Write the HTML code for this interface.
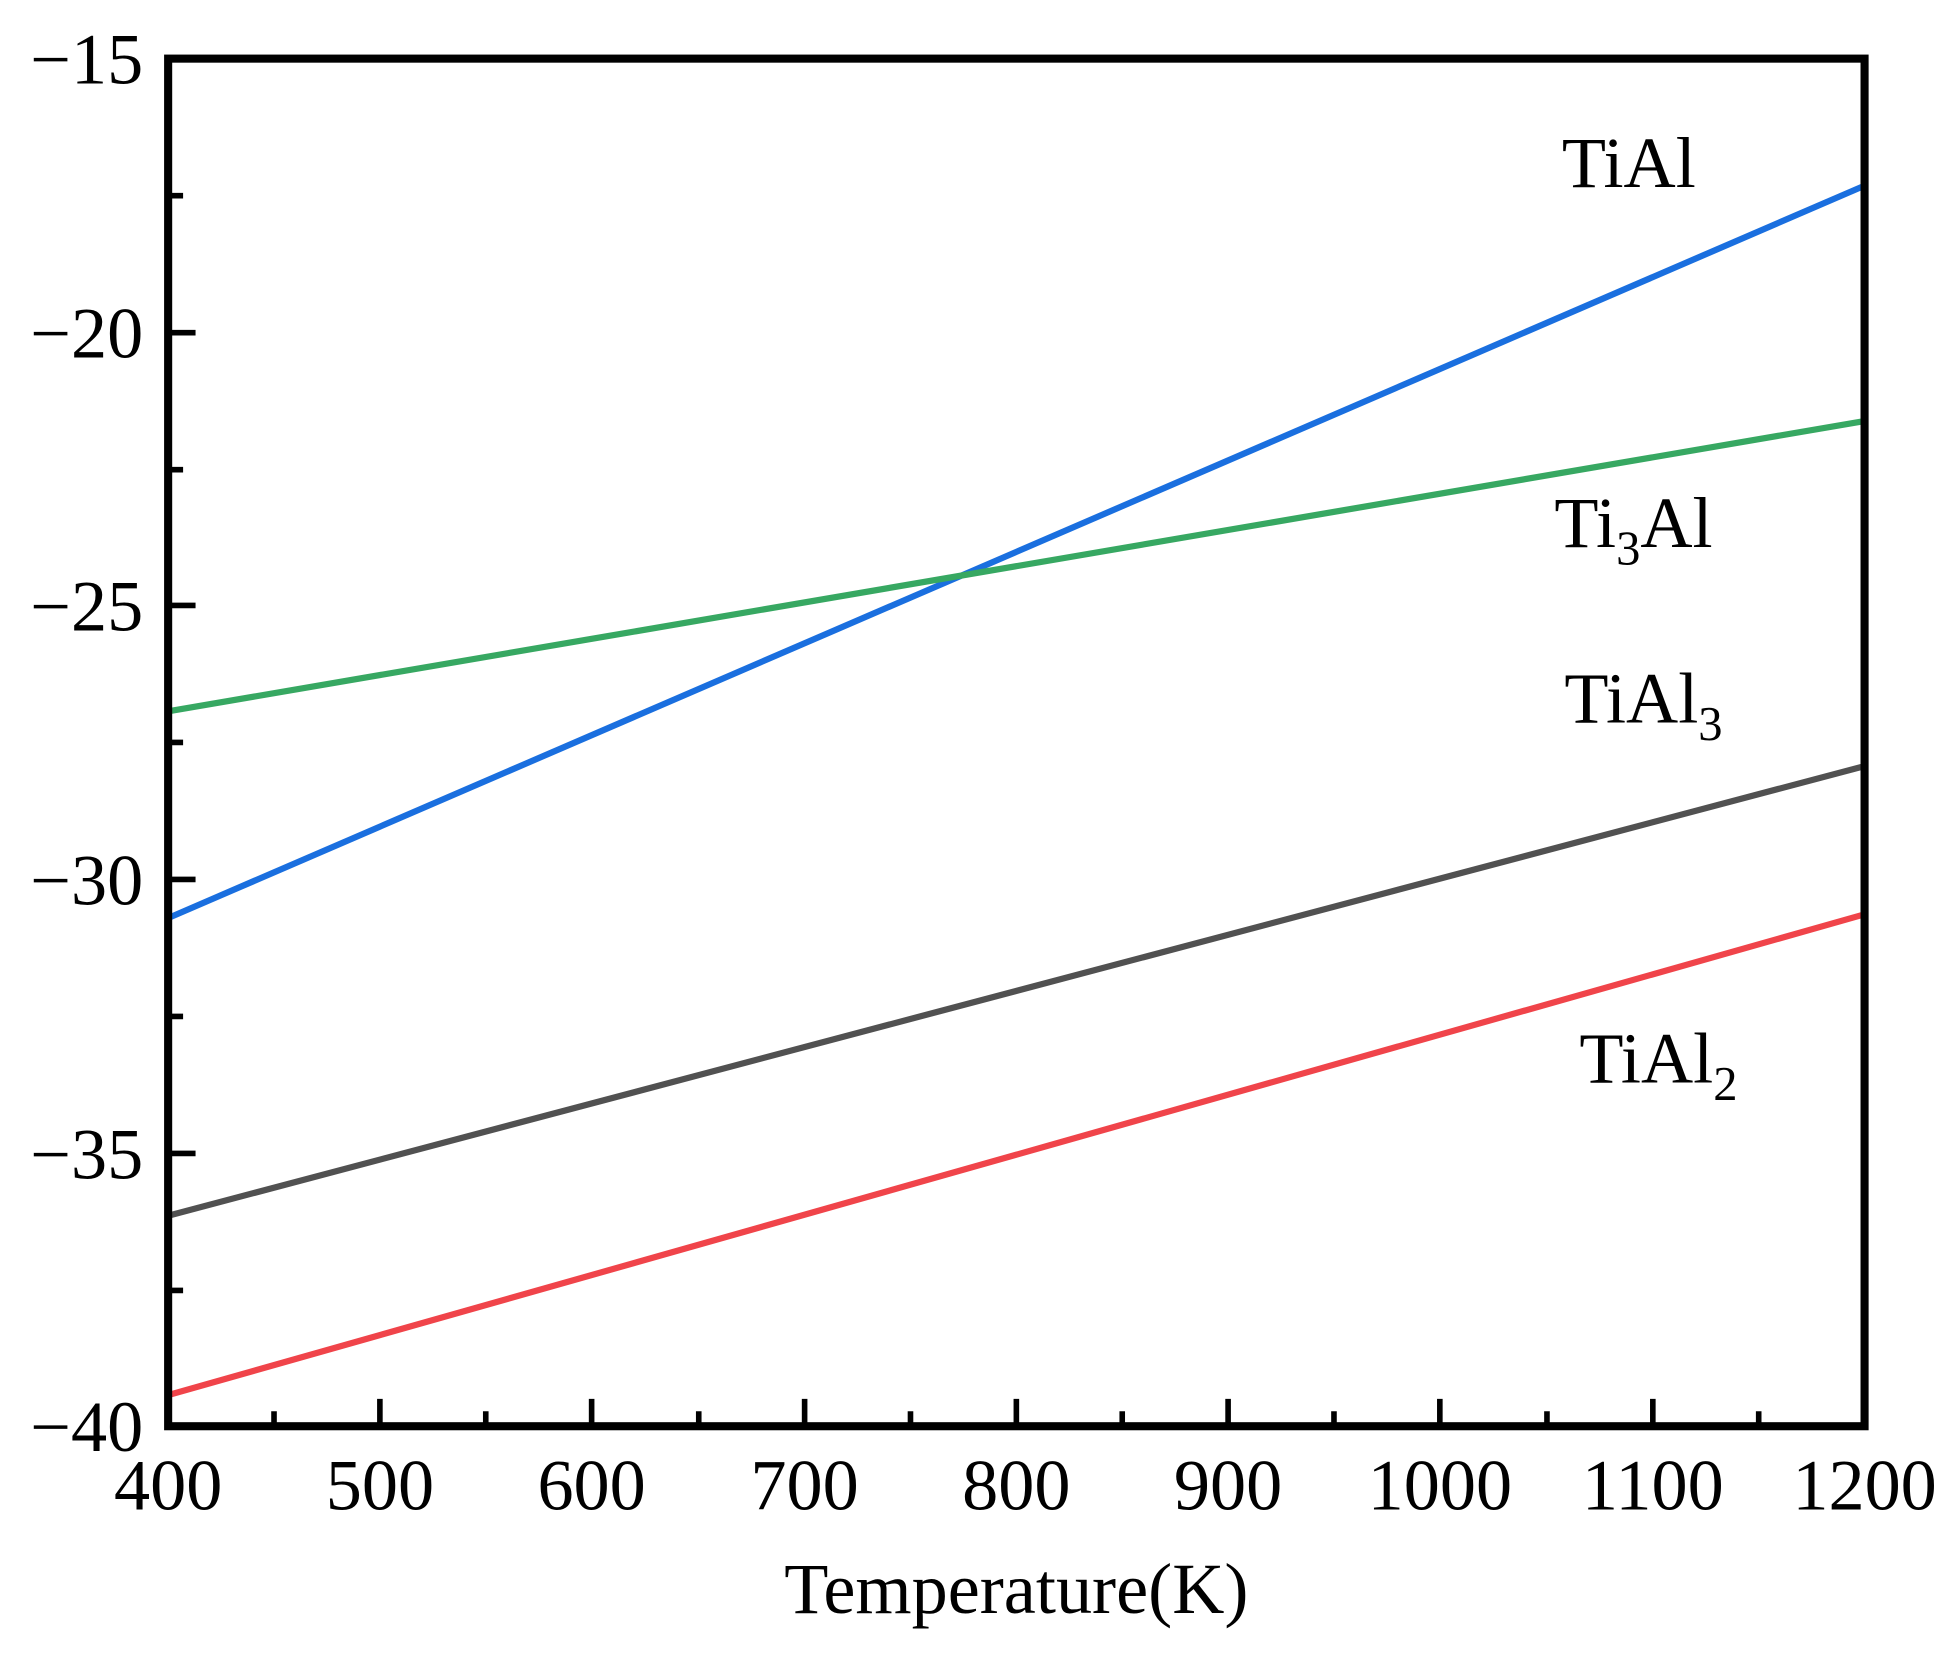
<!DOCTYPE html>
<html><head><style>html,body{margin:0;padding:0;background:#fff}svg{display:block}</style></head>
<body>
<svg width="1953" height="1653" viewBox="0 0 1568 1327" xmlns="http://www.w3.org/2000/svg" font-family="Liberation Serif, serif">
<rect width="1568" height="1327" fill="#fff"/>
<g stroke-width="5" fill="none" stroke-linecap="butt">
<line x1="135" y1="737" x2="1497" y2="149" stroke="#1a6fdf"/>
<line x1="135" y1="571" x2="1497" y2="338" stroke="#37a862"/>
<line x1="135" y1="976" x2="1497" y2="615" stroke="#515151"/>
<line x1="135" y1="1120" x2="1497" y2="734" stroke="#f0444a"/>
</g>
<g stroke="#000" stroke-width="4.5">
<path d="M305 1145v-22M475 1145v-22M646 1145v-22M816 1145v-22M986 1145v-22M1156 1145v-22M1327 1145v-22"/>
<path d="M220 1145v-12M390 1145v-12M561 1145v-12M731 1145v-12M901 1145v-12M1071 1145v-12M1242 1145v-12M1412 1145v-12"/>
<path d="M135 267h22M135 486h22M135 706h22M135 926h22"/>
<path d="M135 157h12M135 377h12M135 596h12M135 816h12M135 1036h12"/>
</g>
<rect x="135" y="47" width="1362" height="1098" fill="none" stroke="#000" stroke-width="6.5"/>
<g font-size="58" fill="#000" text-anchor="middle">
<text x="135" y="1212">400</text><text x="305" y="1212">500</text><text x="475" y="1212">600</text>
<text x="646" y="1212">700</text><text x="816" y="1212">800</text><text x="986" y="1212">900</text>
<text x="1156" y="1212">1000</text><text x="1327" y="1212">1100</text><text x="1497" y="1212">1200</text>
</g>
<g font-size="58" fill="#000" text-anchor="end">
<text x="115" y="67">−15</text><text x="115" y="287">−20</text><text x="115" y="506">−25</text>
<text x="115" y="726">−30</text><text x="115" y="946">−35</text><text x="115" y="1165">−40</text>
</g>
<text x="816" y="1295" font-size="58" text-anchor="middle">Temperature(K)</text>
<g font-size="58" fill="#000">
<text x="1254" y="150">TiAl</text>
<text x="1248" y="439">Ti<tspan font-size="39" dy="14">3</tspan><tspan dy="-14">Al</tspan></text>
<text x="1256" y="580">TiAl<tspan font-size="39" dy="14">3</tspan></text>
<text x="1268" y="869">TiAl<tspan font-size="39" dy="14">2</tspan></text>
</g>
</svg>
</body></html>
